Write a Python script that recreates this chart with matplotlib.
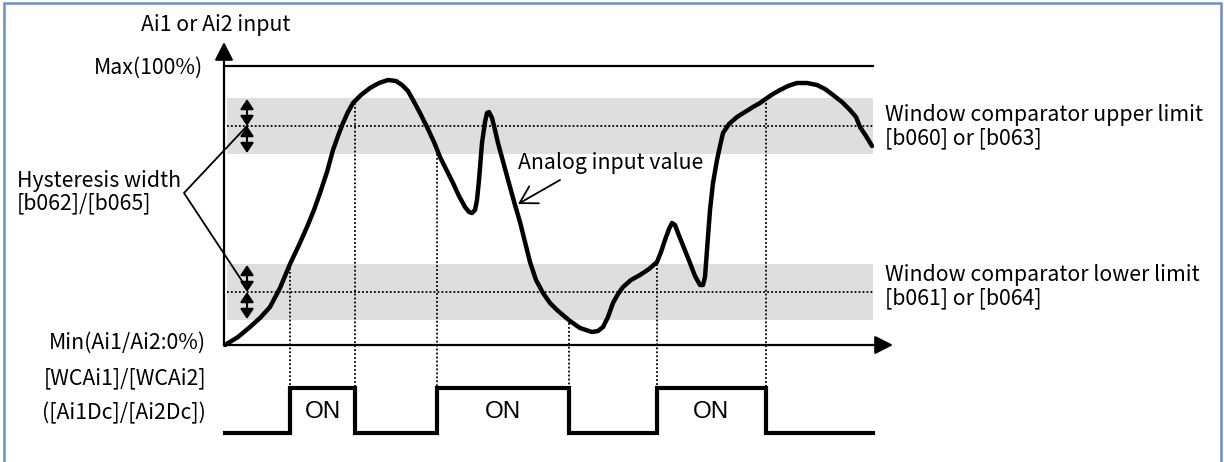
import matplotlib.pyplot as plt
from matplotlib.patches import FancyArrowPatch

# Everything is laid out in picture units (x to the right, y downwards)

# analog input trace
curve_x = [225, 238, 250, 260, 270, 280, 290, 299, 307, 314, 320, 327, 333, 338, 343,
           348, 353, 361, 370, 379, 388, 396, 402, 408, 413, 420, 427, 434, 440, 447,
           453, 459, 465, 469, 472, 475, 477, 479, 482, 485, 487, 489, 492, 495, 498,
           504, 510, 515, 520, 525, 530, 536, 543, 550, 557, 564, 570, 580, 592, 598,
           603, 608, 613, 618, 623, 631, 640, 649, 657, 661, 665, 669, 672, 675, 678,
           684, 690, 695, 700, 703, 705, 707, 710, 713, 717, 720, 723, 729, 737, 745,
           753, 760, 767, 773, 780, 788, 797, 807, 817, 825, 833, 842, 850, 856, 860,
           866, 872]
curve_y = [345, 337, 327, 318, 307, 288, 264, 245, 227, 210, 193, 172, 150, 136, 123,
           112, 103, 95, 88, 83, 80, 81, 85, 91, 100, 113, 127, 142, 157, 171,
           183, 196, 207, 212, 213, 210, 200, 180, 143, 122, 113, 112, 118, 130, 143,
           165, 187, 205, 222, 242, 262, 280, 293, 303, 310, 316, 321, 328, 332, 331,
           327, 317, 303, 294, 287, 280, 275, 269, 262, 252, 240, 229, 223, 225, 233,
           248, 263, 276, 285, 285, 277, 250, 210, 183, 160, 146, 133, 124, 117, 112,
           107, 103, 98, 94, 90, 86, 83, 83, 85, 89, 95, 102, 110, 117, 127,
           136, 146]

# levels
origin_x, origin_y = 225, 345
x_end, x_arrow = 873, 893
y_arrow = 42
max_level = 66
upper_limit, lower_limit = 126, 292
hysteresis = 27

# comparator output
switch_x = [290, 355, 437, 569, 657, 766]
switch_from = [264, 99, 154, 319, 264, 99]
sig_low, sig_high = 433, 388

fig = plt.figure(figsize=(12.24, 4.62), dpi=100)
ax = fig.add_axes([0, 0, 1, 1])
ax.set_xlim(0, 1224)
ax.set_ylim(462, 0)
ax.axis('off')

font = 'Noto Sans CJK JP'
fs = 15.3

# outer frame
ax.plot([4, 4, 1221, 1221], [462, 3, 3, 462], color='#6a8fc8', lw=1.8, solid_joinstyle='miter')

# window bands
for lim in (upper_limit, lower_limit):
    ax.fill_between([origin_x + 2, x_end], lim - hysteresis - 1, lim + hysteresis + 1,
                    color='#dedede', lw=0, zorder=1)
    ax.plot([origin_x + 2, x_end], [lim, lim], color='black', lw=1.3, ls=(0, (1, 1.2)), zorder=2)

# max line
ax.plot([origin_x, x_end], [max_level, max_level], color='black', lw=1.6, zorder=3)

# axes
for end in ((origin_x - 1, y_arrow), (x_arrow, origin_y)):
    ax.add_patch(FancyArrowPatch((origin_x - 1, origin_y), end,
                                 arrowstyle='-|>,head_length=0.55,head_width=0.28',
                                 mutation_scale=20, color='black', lw=1.6, zorder=4,
                                 shrinkA=0, shrinkB=0))

# switching instants
for sx, sy in zip(switch_x, switch_from):
    ax.plot([sx, sx], [sy, sig_high], color='black', lw=1.3, ls=(0, (1, 1.2)), zorder=2)

# analog curve
ax.plot(curve_x, curve_y, color='black', lw=3.2, solid_joinstyle='round',
        solid_capstyle='round', zorder=5)

# hysteresis double arrows
for lim in (upper_limit, lower_limit):
    for a, b in ((lim - hysteresis, lim), (lim, lim + hysteresis)):
        ax.add_patch(FancyArrowPatch((247, a), (247, b),
                                     arrowstyle='<|-|>,head_length=0.6,head_width=0.4',
                                     mutation_scale=10, color='black', lw=1.5, zorder=6,
                                     shrinkA=0, shrinkB=0))

# hysteresis leader lines
ax.plot([247, 184, 246], [upper_limit, 193, lower_limit - 5], color='black', lw=1.3, zorder=6)

# comparator signal
sig_x = [origin_x]
sig_y = [sig_low]
for i in range(0, len(switch_x), 2):
    sig_x += [switch_x[i], switch_x[i], switch_x[i + 1], switch_x[i + 1]]
    sig_y += [sig_low, sig_high, sig_high, sig_low]
sig_x.append(x_end)
sig_y.append(sig_low)
ax.plot(sig_x, sig_y, color='black', lw=3.0, solid_joinstyle='miter', zorder=5)

for i in range(0, len(switch_x), 2):
    ax.text((switch_x[i] + switch_x[i + 1]) / 2, 412, 'ON', ha='center', va='center',
            fontsize=17.5, family='Liberation Sans')

# analog label + arrow
ax.text(518, 163, 'Analog input value', ha='left', va='center', fontsize=fs, family=font)
ax.add_patch(FancyArrowPatch((560, 180), (518, 204), arrowstyle='->,head_length=0.6,head_width=0.35',
                             mutation_scale=20, color='black', lw=1.3, zorder=6,
                             shrinkA=0, shrinkB=0))

# labels
ax.text(141, 25, 'Ai1 or Ai2 input', ha='left', va='center', fontsize=fs, family=font)
ax.text(203, 68, 'Max(100%)', ha='right', va='center', fontsize=fs, family=font)
ax.text(206, 343, 'Min(Ai1/Ai2:0%)', ha='right', va='center', fontsize=fs, family=font)
ax.text(206, 378, '[WCAi1]/[WCAi2]', ha='right', va='center', fontsize=fs, family=font)
ax.text(206, 413, '([Ai1Dc]/[Ai2Dc])', ha='right', va='center', fontsize=fs, family=font)
ax.text(17, 181, 'Hysteresis width', ha='left', va='center', fontsize=fs, family=font)
ax.text(17, 203, '[b062]/[b065]', ha='left', va='center', fontsize=fs, family=font)
ax.text(885, 115, 'Window comparator upper limit', ha='left', va='center', fontsize=fs, family=font)
ax.text(885, 138, '[b060] or [b063]', ha='left', va='center', fontsize=fs, family=font)
ax.text(885, 275, 'Window comparator lower limit', ha='left', va='center', fontsize=fs, family=font)
ax.text(885, 298, '[b061] or [b064]', ha='left', va='center', fontsize=fs, family=font)

fig.savefig('out.png', dpi=100)
